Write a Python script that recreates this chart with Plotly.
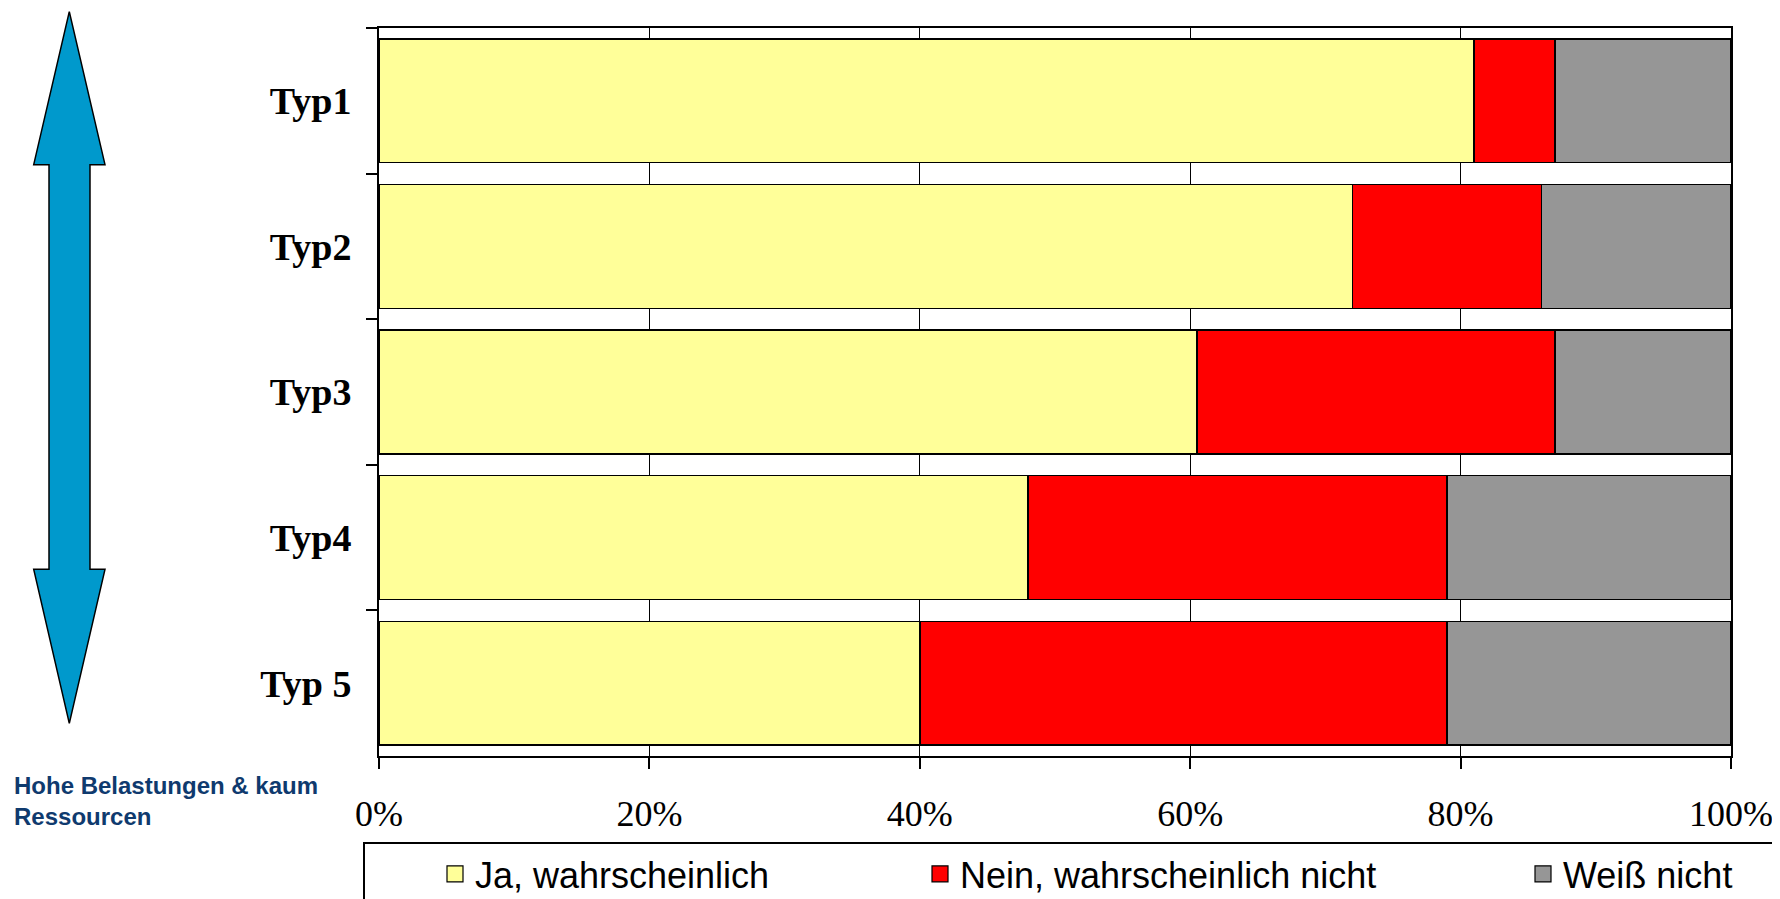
import plotly.graph_objects as go

# ---------------- data ----------------
categories = ["Typ1", "Typ2", "Typ3", "Typ4", "Typ 5"]
ja_wahrscheinlich = [81, 72, 60.5, 48, 40]
nein_wahrscheinlich_nicht = [6, 14, 26.5, 31, 39]
weiss_nicht = [13, 14, 13, 21, 21]
series_names = ["Ja, wahrscheinlich", "Nein, wahrscheinlich nicht", "Weiß nicht"]
x_tick_values = [0, 20, 40, 60, 80, 100]
x_tick_labels = ["0%", "20%", "40%", "60%", "80%", "100%"]
side_note = "Hohe Belastungen & kaum<br>Ressourcen"

# ---------------- styling / layout ----------------
colors = ["#FFFF99", "#FF0000", "#969696"]
W, H = 1780, 899
OFF = 8  # page body margin: screen = figure + 8
L, R, T, B = 371, 57, 20, 151
PW, PH = W - L - R, H - T - B


def px(x):
    # screen x -> paper fraction
    return (x - OFF - L) / PW


def py(y):
    # screen y -> paper fraction
    return (H - B - (y - OFF)) / PH


fig = go.Figure()
series = [ja_wahrscheinlich, nein_wahrscheinlich_nicht, weiss_nicht]
for name, vals, col in zip(series_names, series, colors):
    fig.add_trace(go.Bar(
        y=categories, x=vals, orientation="h", name=name,
        marker=dict(color=col, line=dict(color="black", width=1.5)),
        showlegend=False,
    ))

legend_ids = ["legend", "legend2", "legend3"]
legend_symbol_centers = [455, 940, 1543]
for name, col, lid in zip(series_names, colors, legend_ids):
    fig.add_trace(go.Scatter(
        x=[None], y=[None], mode="markers", name=name, legend=lid,
        marker=dict(symbol="square", size=16, color=col,
                    line=dict(color="black", width=1.2)),
    ))

legend_font = dict(family="Liberation Sans, Arial", size=36, color="black")
legend_layouts = {}
for lid, cx in zip(legend_ids, legend_symbol_centers):
    legend_layouts[lid] = dict(
        x=px(cx - 20), y=py(874), xanchor="left", yanchor="middle",
        orientation="h", font=legend_font, itemsizing="trace",
        bgcolor="rgba(0,0,0,0)", borderwidth=0,
    )

# left double-headed arrow (decoration, screen pixel geometry)
arrow_pts = [(69.3, 11.7), (105, 164.7), (90, 164.7), (90, 569.3), (105, 569.3),
             (69.3, 723.3), (33.7, 569.3), (49, 569.3), (49, 164.7), (33.7, 164.7)]
path = "M " + " L ".join(f"{px(x):.5f},{py(y):.5f}" for x, y in arrow_pts) + " Z"

shapes = [
    dict(type="path", xref="paper", yref="paper", path=path,
         fillcolor="#0099CC", line=dict(color="black", width=1.5), layer="above"),
    dict(type="rect", xref="paper", yref="paper",
         x0=px(364), x1=px(1810), y0=py(843), y1=py(930),
         line=dict(color="black", width=2), fillcolor="rgba(0,0,0,0)"),
]

fig.update_layout(
    width=W, height=H,
    margin=dict(l=L, r=R, t=T, b=B, autoexpand=False),
    barmode="stack", bargap=0.15,
    plot_bgcolor="white", paper_bgcolor="white",
    shapes=shapes,
    annotations=[dict(
        text="<b>" + side_note + "</b>", xref="paper", yref="paper",
        x=px(12), y=py(770), xanchor="left", yanchor="top", align="left",
        showarrow=False,
        font=dict(family="Liberation Sans, Arial", size=24, color="#0F3A6E"),
    )],
    **legend_layouts,
)

fig.update_xaxes(
    range=[0, 100], tickvals=x_tick_values, ticktext=x_tick_labels,
    showgrid=True, gridcolor="black", gridwidth=1, zeroline=False,
    showline=True, linecolor="black", linewidth=2, mirror=True,
    ticks="outside", ticklen=11, tickwidth=1.5, tickcolor="black",
    tickfont=dict(family="Liberation Serif, Times New Roman", size=36, color="black"),
    ticklabelstandoff=14,
)
fig.update_yaxes(
    type="category", autorange="reversed", tickson="boundaries",
    showgrid=False, zeroline=False,
    showline=True, linecolor="black", linewidth=2, mirror=True,
    ticks="outside", ticklen=11, tickwidth=1.5, tickcolor="black",
    tickfont=dict(family="Liberation Serif, Times New Roman", size=38,
                  color="black", weight="bold"),
    ticklabelstandoff=18,
)

fig.write_html("out.html")
